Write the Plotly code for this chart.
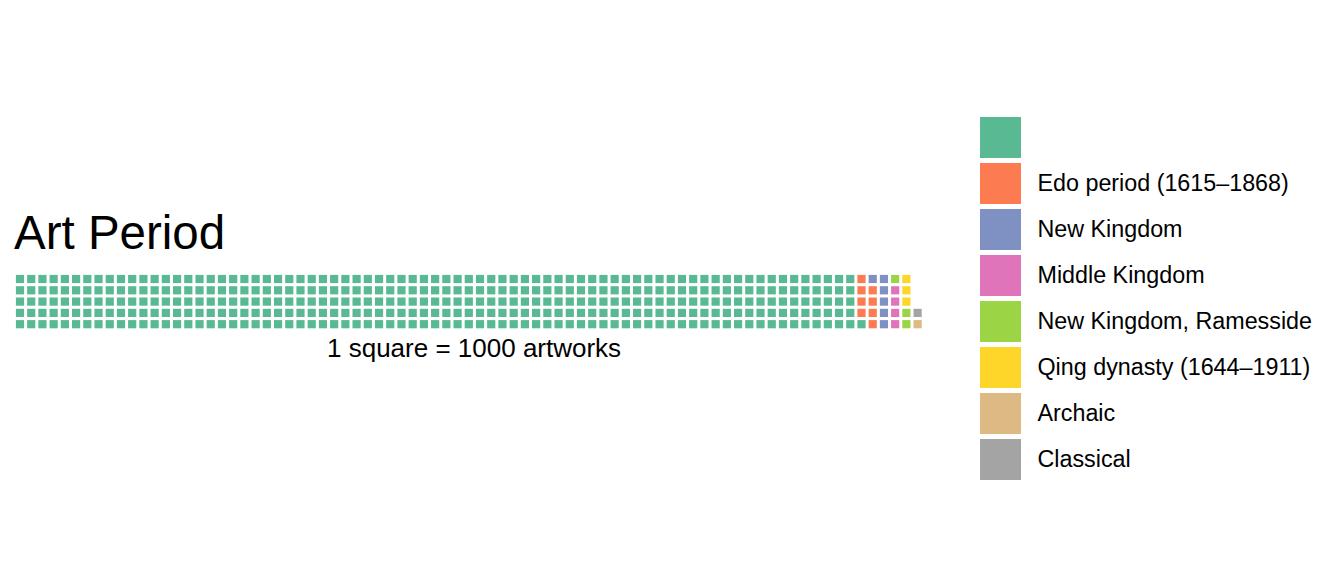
import plotly.graph_objects as go

# ---- data (thousands of artworks; 1 square = 1000 artworks) ----
categories = ["", "Edo period (1615–1868)", "New Kingdom", "Middle Kingdom",
              "New Kingdom, Ramesside", "Qing dynasty (1644–1911)", "Archaic", "Classical"]
counts = [376, 8, 6, 4, 3, 3, 1, 1]
colors = ["#58B993", "#FC7B51", "#7F91C3", "#E074BA", "#9BD444", "#FED62A", "#DDB983", "#A4A4A4"]
n_rows = 5
title_text = "Art Period"
caption_text = "1 square = 1000 artworks"

W, H = 1344, 576
FONT = "Liberation Sans, Arial, sans-serif"
fig = go.Figure()

# waffle squares: filled column by column, bottom to top
k = 0
for cat, cnt, col in zip(categories, counts, colors):
    xs, ys = [], []
    for _ in range(cnt):
        xs.append(k // n_rows)
        ys.append(k % n_rows)
        k += 1
    fig.add_trace(go.Scatter(
        x=xs, y=ys, mode="markers", xaxis="x", yaxis="y",
        marker=dict(symbol="square", size=8.2, color=col, line=dict(width=0)),
        showlegend=False, hoverinfo="skip"))

# custom legend (large squares + labels)
leg_idx = list(range(len(categories)))
fig.add_trace(go.Scatter(
    x=[0] * len(categories), y=leg_idx, mode="markers", xaxis="x2", yaxis="y2",
    marker=dict(symbol="square", size=41, color=colors, line=dict(width=0)),
    showlegend=False, hoverinfo="skip"))
fig.add_trace(go.Scatter(
    x=[1] * len(categories), y=[i + 0.04 for i in leg_idx], mode="text", xaxis="x2", yaxis="y2",
    text=categories, textposition="middle right",
    textfont=dict(family=FONT, size=23.3, color="#000000"),
    showlegend=False, hoverinfo="skip"))

pitch_x = 11.22
pitch_y = 11.3
x0 = -20.0 / pitch_x
y_bottom_px = 324.2
y_top = y_bottom_px / pitch_y
noax = dict(visible=False, showgrid=False, zeroline=False, fixedrange=True)

# legend axis: marker at x=0 -> px 1000.5, text anchor x=1 -> px ~1037
lx_scale = 37.0  # px per unit
lx0 = -1000.5 / lx_scale
ly_scale = 46.0
ly0 = -137.5 / ly_scale

fig.update_layout(
    width=W, height=H, margin=dict(l=0, r=0, t=0, b=0),
    paper_bgcolor="white", plot_bgcolor="rgba(0,0,0,0)",
    xaxis=dict(domain=[0, 1], range=[x0, x0 + W / pitch_x], **noax),
    yaxis=dict(domain=[0, 1], range=[y_top - H / pitch_y, y_top], **noax),
    xaxis2=dict(domain=[0, 1], range=[lx0, lx0 + W / lx_scale], anchor="y2", **noax),
    yaxis2=dict(domain=[0, 1], range=[ly0 + H / ly_scale, ly0], anchor="x2", **noax),
    annotations=[
        dict(text=title_text, xref="paper", yref="paper", x=12 / W, y=1 - 233 / H,
             xanchor="left", yanchor="middle", showarrow=False,
             font=dict(family=FONT, size=47.5, color="#000000")),
        dict(text=caption_text, xref="paper", yref="paper", x=474 / W, y=1 - 348 / H,
             xanchor="center", yanchor="middle", showarrow=False,
             font=dict(family=FONT, size=26, color="#000000")),
    ],
)

fig.write_html("out.html")
